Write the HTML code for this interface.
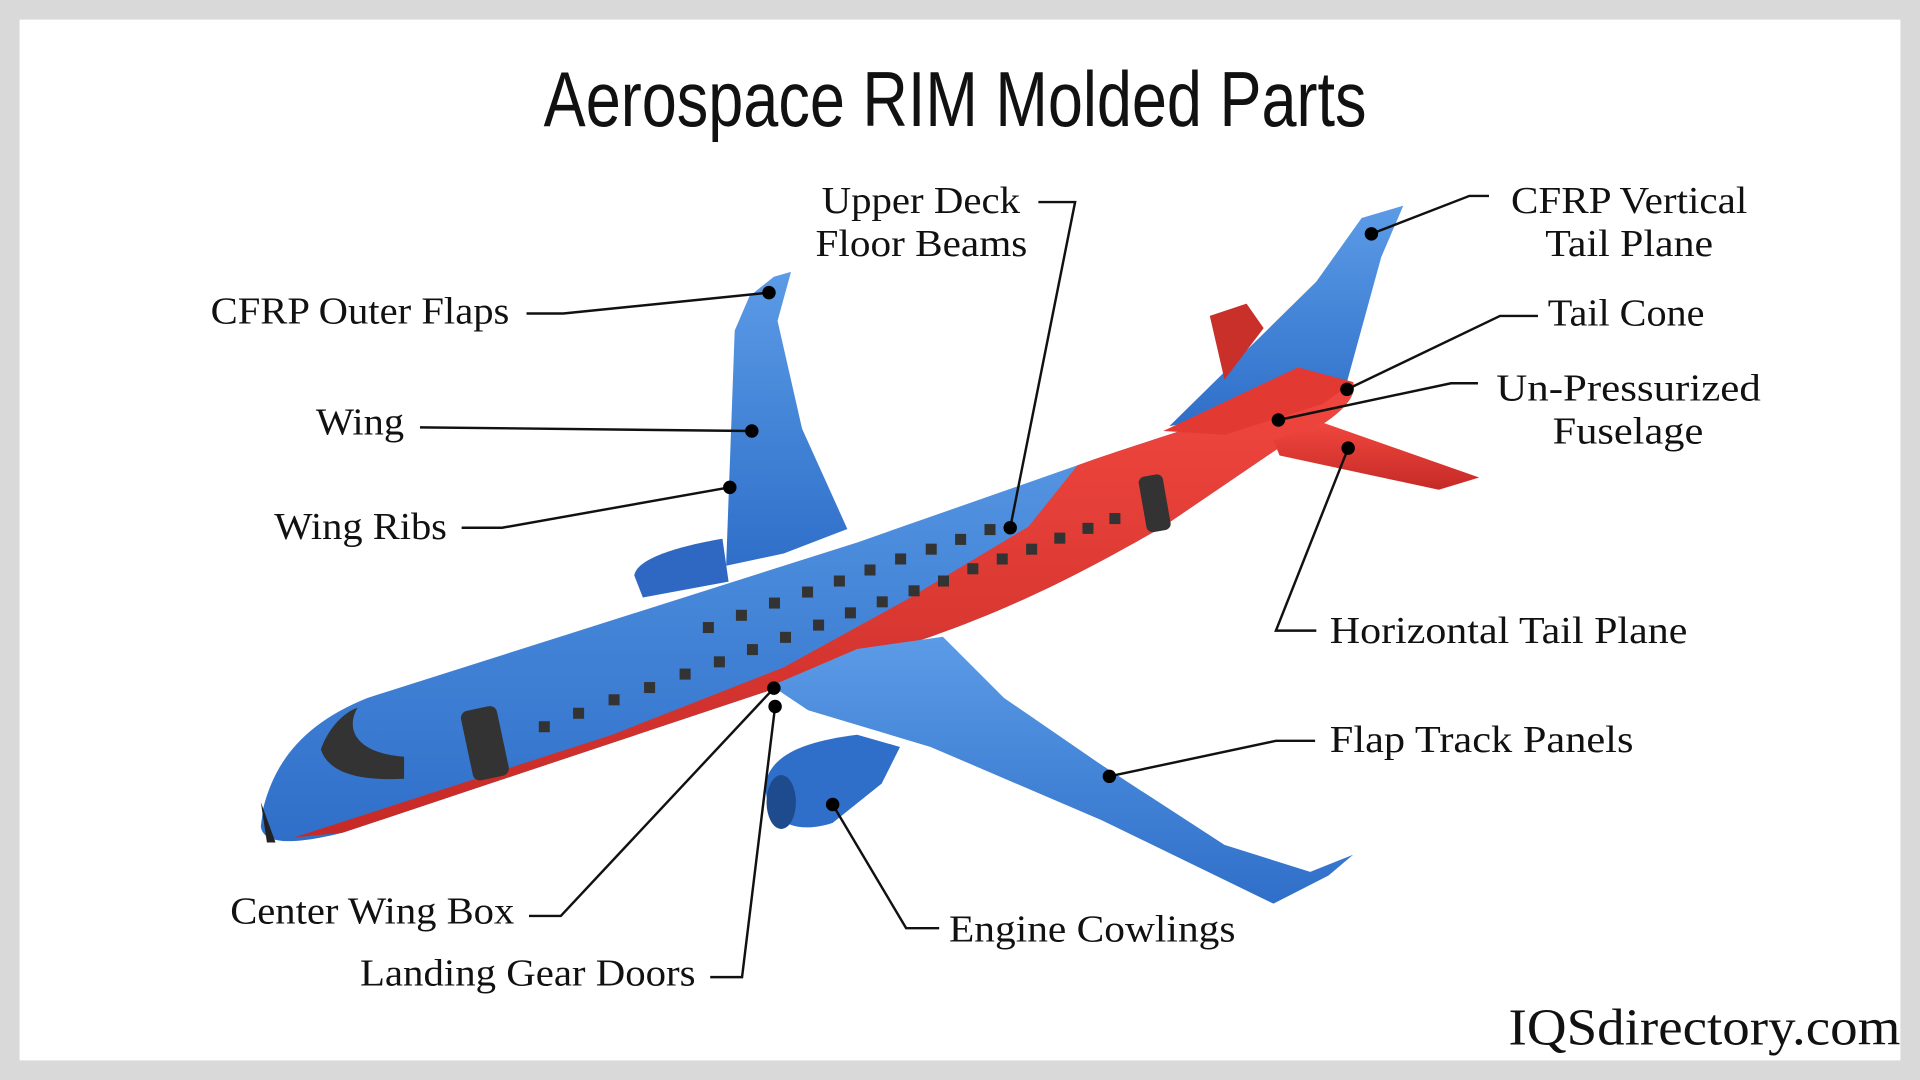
<!DOCTYPE html>
<html><head><meta charset="utf-8"><style>
html,body{margin:0;padding:0;background:#d9d9d9;}
svg{display:block}
.l{font-family:"Liberation Serif",serif;font-size:31px;fill:#111;}
.ln{stroke:#111;stroke-width:2;fill:none}
</style></head><body>
<svg width="1920" height="1080" viewBox="0 0 1568 882" xmlns="http://www.w3.org/2000/svg">
<defs>
<linearGradient id="bl" x1="0" y1="0" x2="0" y2="1"><stop offset="0" stop-color="#5b9be6"/><stop offset="1" stop-color="#2f6fc9"/></linearGradient>
<linearGradient id="rd" x1="0" y1="0" x2="0" y2="1"><stop offset="0" stop-color="#f0473f"/><stop offset="1" stop-color="#c62a26"/></linearGradient>
</defs>
<rect x="0" y="0" width="1568" height="882" fill="#d9d9d9"/>
<rect x="16" y="16" width="1536" height="850" fill="#fff"/>
<text x="444" y="103" font-family="Liberation Sans Narrow,Liberation Sans,sans-serif" font-size="64" textLength="672" lengthAdjust="spacingAndGlyphs" fill="#111">Aerospace RIM Molded Parts</text>

<polygon points="593,462 600,270 612,242 632,226 646,222 635,262 655,350 692,432 640,452" fill="url(#bl)"/>
<path d="M518,470 C520,455 560,445 590,440 L595,475 L525,488 Z" fill="#2f68c2"/>
<polygon points="955,348 1075,230 1112,178 1146,168 1128,210 1100,312 1030,335" fill="url(#bl)"/>
<polygon points="988,258 1018,248 1032,268 1000,310" fill="#c9302a"/>
<path d="M215,660 C225,620 250,590 300,570 L700,443 L880,380 C930,362 990,345 1060,318 L1105,312 C1110,325 1090,345 1050,362 L950,430 C880,470 830,495 760,520 L400,640 L280,680 C240,690 215,690 213,675 Z" fill="url(#bl)"/>
<path d="M240,684 L500,600 L640,545 L740,490 L840,430 L880,380 C930,362 990,345 1060,318 L1105,312 C1110,325 1090,345 1050,362 L950,430 C880,470 830,495 760,520 L400,640 L280,680 Z" fill="url(#rd)"/>
<path d="M950,352 L1060,300 L1105,312 L1080,330 L1000,355 Z" fill="#e23a33"/>
<polygon points="1040,360 1080,345 1208,390 1175,400 1045,372" fill="url(#rd)"/>
<polygon points="630,560 700,530 770,520 820,570 900,625 1000,690 1070,712 1105,698 1085,715 1040,738 900,670 760,610 660,580" fill="url(#bl)"/>
<path d="M625,640 C630,615 660,605 700,600 L735,610 L720,640 L680,672 C650,682 625,672 625,640 Z" fill="#2f6fc9"/>
<ellipse cx="638" cy="655" rx="12" ry="22" fill="#1e4a8e"/>
<path d="M262,612 C270,590 285,580 292,578 C282,595 290,615 330,618 L330,636 C290,638 268,630 262,612 Z" fill="#333"/>
<rect x="381" y="578" width="30" height="58" rx="6" fill="#333" transform="rotate(-12 396 607)"/>
<rect x="933" y="388" width="20" height="46" rx="5" fill="#333" transform="rotate(-10 943 411)"/>
<path d="M213,655 L225,688 L218,688 Z" fill="#222"/>
<g fill="#333">
<rect x="440" y="589" width="9" height="9"/><rect x="468" y="578" width="9" height="9"/><rect x="497" y="567" width="9" height="9"/><rect x="526" y="557" width="9" height="9"/><rect x="555" y="546" width="9" height="9"/><rect x="583" y="536" width="9" height="9"/><rect x="610" y="526" width="9" height="9"/><rect x="637" y="516" width="9" height="9"/><rect x="664" y="506" width="9" height="9"/><rect x="690" y="496" width="9" height="9"/><rect x="716" y="487" width="9" height="9"/><rect x="742" y="478" width="9" height="9"/><rect x="766" y="470" width="9" height="9"/><rect x="790" y="460" width="9" height="9"/><rect x="814" y="452" width="9" height="9"/><rect x="838" y="444" width="9" height="9"/><rect x="861" y="435" width="9" height="9"/><rect x="884" y="427" width="9" height="9"/><rect x="906" y="419" width="9" height="9"/>
<rect x="574" y="508" width="9" height="9"/><rect x="601" y="498" width="9" height="9"/><rect x="628" y="488" width="9" height="9"/><rect x="655" y="479" width="9" height="9"/><rect x="681" y="470" width="9" height="9"/><rect x="706" y="461" width="9" height="9"/><rect x="731" y="452" width="9" height="9"/><rect x="756" y="444" width="9" height="9"/><rect x="780" y="436" width="9" height="9"/><rect x="804" y="428" width="9" height="9"/>
</g>

<g class="ln">
<polyline points="430,256 460,256 628,239"/>
<polyline points="343,349 614,352"/>
<polyline points="377,431 410,431 596,398"/>
<polyline points="848,165 878,165 825,431"/>
<polyline points="1120,191 1200,160 1216,160"/>
<polyline points="1100,318 1225,258 1256,258"/>
<polyline points="1044,343 1185,313 1207,313"/>
<polyline points="1101,366 1042,515 1075,515"/>
<polyline points="906,634 1042,605 1074,605"/>
<polyline points="680,657 740,758 767,758"/>
<path d="M432,748 L458,748 L632,562"/>
<polyline points="580,798 606,798 633,577"/>
</g>
<g fill="#000">
<circle cx="628" cy="239" r="5.5"/><circle cx="614" cy="352" r="5.5"/><circle cx="596" cy="398" r="5.5"/><circle cx="825" cy="431" r="5.5"/><circle cx="1120" cy="191" r="5.5"/><circle cx="1100" cy="318" r="5.5"/><circle cx="1044" cy="343" r="5.5"/><circle cx="1101" cy="366" r="5.5"/><circle cx="906" cy="634" r="5.5"/><circle cx="680" cy="657" r="5.5"/><circle cx="632" cy="562" r="5.5"/><circle cx="633" cy="577" r="5.5"/>
</g>

<g lengthAdjust="spacingAndGlyphs">
<text class="l" x="172" y="264" textLength="244" lengthAdjust="spacingAndGlyphs">CFRP Outer Flaps</text>
<text class="l" x="258" y="355" textLength="72" lengthAdjust="spacingAndGlyphs">Wing</text>
<text class="l" x="224" y="440" textLength="141" lengthAdjust="spacingAndGlyphs">Wing Ribs</text>
<text class="l" x="671" y="174" textLength="162" lengthAdjust="spacingAndGlyphs">Upper Deck</text>
<text class="l" x="666" y="209" textLength="173" lengthAdjust="spacingAndGlyphs">Floor Beams</text>
<text class="l" x="1234" y="174" textLength="193" lengthAdjust="spacingAndGlyphs">CFRP Vertical</text>
<text class="l" x="1262" y="209" textLength="137" lengthAdjust="spacingAndGlyphs">Tail Plane</text>
<text class="l" x="1264" y="266" textLength="128" lengthAdjust="spacingAndGlyphs">Tail Cone</text>
<text class="l" x="1222" y="327" textLength="216" lengthAdjust="spacingAndGlyphs">Un-Pressurized</text>
<text class="l" x="1268" y="362" textLength="123" lengthAdjust="spacingAndGlyphs">Fuselage</text>
<text class="l" x="1086" y="525" textLength="292" lengthAdjust="spacingAndGlyphs">Horizontal Tail Plane</text>
<text class="l" x="1086" y="614" textLength="248" lengthAdjust="spacingAndGlyphs">Flap Track Panels</text>
<text class="l" x="775" y="769" textLength="234" lengthAdjust="spacingAndGlyphs">Engine Cowlings</text>
<text class="l" x="188" y="754" textLength="232" lengthAdjust="spacingAndGlyphs">Center Wing Box</text>
<text class="l" x="294" y="805" textLength="274" lengthAdjust="spacingAndGlyphs">Landing Gear Doors</text>
</g>
<text x="1232" y="853" textLength="320" lengthAdjust="spacingAndGlyphs" font-family="Liberation Serif,serif" font-size="42" fill="#111">IQSdirectory.com</text>
</svg>
</body></html>
